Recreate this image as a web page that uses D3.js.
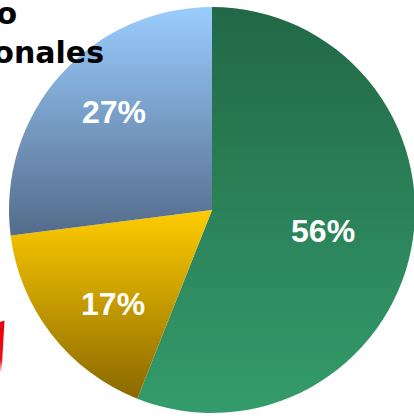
<!DOCTYPE html>
<html>
<head>
<meta charset="utf-8">
<script src="https://cdn.jsdelivr.net/npm/d3@7/dist/d3.min.js"></script>
<style>
  html, body { margin: 0; padding: 0; background: #ffffff; overflow: hidden; }
  svg { display: block; }
</style>
</head>
<body>
<svg id="chart" width="414" height="417"></svg>
<script>
// Share of each block, clockwise from twelve o'clock
const categories = ["A", "B", "C"];
const shares = [56, 17, 27];
const valueLabels = ["56%", "17%", "27%"];
const titleLines = ["o", "onales"];

// Top / bottom colours of each slice's vertical gradient
const gradTop = ["#226846", "#ffcc00", "#9acdff"];
const gradBottom = ["#349c6b", "#8a6800", "#546b8a"];
// Where each percentage sits: fraction of radius and a small turn (degrees)
const labelFrac = [0.556, 0.672, 0.683];
const labelTurn = [-0.6, -5.7, 3.6];

const W = 414, H = 417;
const cx = 212, cy = 210, R = 203;

const svg = d3.select("#chart");
const defs = svg.append("defs");

categories.forEach((c, i) => {
  const g = defs.append("linearGradient")
    .attr("id", "grad" + i)
    .attr("x1", 0).attr("y1", 0).attr("x2", 0).attr("y2", 1);
  g.append("stop").attr("offset", "0%").attr("stop-color", gradTop[i]);
  g.append("stop").attr("offset", "100%").attr("stop-color", gradBottom[i]);
});

const redGrad = defs.append("linearGradient")
  .attr("id", "redGrad").attr("x1", 0).attr("y1", 0).attr("x2", 0).attr("y2", 1);
redGrad.append("stop").attr("offset", "0%").attr("stop-color", "#e8000a");
redGrad.append("stop").attr("offset", "75%").attr("stop-color", "#ee1111");
redGrad.append("stop").attr("offset", "100%").attr("stop-color", "#ffffff");

const pie = d3.pie().value(d => d).sort(null);
const arcs = pie(shares);
const arc = d3.arc().innerRadius(0).outerRadius(R);

const g = svg.append("g").attr("transform", `translate(${cx},${cy})`);

g.selectAll("path.slice")
  .data(arcs)
  .join("path")
  .attr("class", "slice")
  .attr("d", arc)
  .attr("fill", (d, i) => `url(#grad${i})`);

g.selectAll("text.pct")
  .data(arcs)
  .join("text")
  .attr("class", "pct")
  .attr("transform", (d, i) => {
    const r = R * labelFrac[i];
    const a = (d.startAngle + d.endAngle) / 2 + labelTurn[i] * Math.PI / 180;
    return `translate(${r * Math.sin(a)},${-r * Math.cos(a)})`;
  })
  .attr("text-anchor", "middle")
  .attr("dy", "0.36em")
  .attr("fill", "#ffffff")
  .style("font-family", "'Liberation Sans', Arial, sans-serif")
  .style("font-weight", "bold")
  .style("font-size", "32px")
  .text((d, i) => valueLabels[i]);

// Heading fragment at top-left
const title = svg.append("text")
  .attr("text-anchor", "end")
  .attr("fill", "#000000")
  .style("font-family", "'DejaVu Sans', Verdana, sans-serif")
  .style("font-weight", "bold")
  .style("font-size", "30px");
title.append("tspan").attr("x", 17).attr("y", 24).text(titleLines[0]);
title.append("tspan").attr("x", 104).attr("y", 63).text(titleLines[1]);

// Red marker edge on the left
svg.append("path")
  .attr("d", "M0,322 L4.5,320.5 L1.5,373 L0,373 Z")
  .attr("fill", "url(#redGrad)");
</script>
</body>
</html>
